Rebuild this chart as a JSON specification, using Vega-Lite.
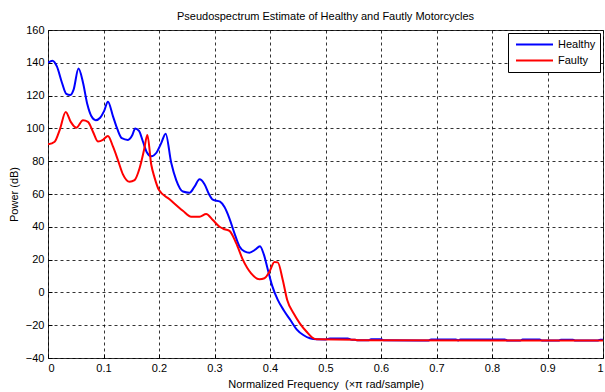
{
  "$schema": "https://vega.github.io/schema/vega-lite/v6.json",
  "width": 555,
  "height": 328,
  "autosize": "none",
  "padding": {"left": 48, "top": 30, "right": 2, "bottom": 34},
  "background": "white",
  "title": {"text": "Pseudospectrum Estimate of Healthy and Fautly Motorcycles", "fontSize": 11, "fontWeight": "normal", "font": "Liberation Sans", "offset": 2, "anchor": "middle", "color": "#000"},
  "data": {"values": [
    {"f": 0, "s": "Healthy", "p": 140},
    {"f": 0.008, "s": "Healthy", "p": 141.3},
    {"f": 0.016, "s": "Healthy", "p": 137.8},
    {"f": 0.025, "s": "Healthy", "p": 128},
    {"f": 0.033, "s": "Healthy", "p": 121},
    {"f": 0.04, "s": "Healthy", "p": 120.3},
    {"f": 0.046, "s": "Healthy", "p": 123.5},
    {"f": 0.055, "s": "Healthy", "p": 136.5},
    {"f": 0.063, "s": "Healthy", "p": 128},
    {"f": 0.071, "s": "Healthy", "p": 114.5},
    {"f": 0.078, "s": "Healthy", "p": 107.5},
    {"f": 0.086, "s": "Healthy", "p": 105},
    {"f": 0.094, "s": "Healthy", "p": 106.5},
    {"f": 0.101, "s": "Healthy", "p": 110.5},
    {"f": 0.108, "s": "Healthy", "p": 116.3},
    {"f": 0.117, "s": "Healthy", "p": 107.5},
    {"f": 0.125, "s": "Healthy", "p": 99.5},
    {"f": 0.133, "s": "Healthy", "p": 94},
    {"f": 0.144, "s": "Healthy", "p": 93},
    {"f": 0.152, "s": "Healthy", "p": 96},
    {"f": 0.157, "s": "Healthy", "p": 100},
    {"f": 0.164, "s": "Healthy", "p": 98.5},
    {"f": 0.171, "s": "Healthy", "p": 92},
    {"f": 0.178, "s": "Healthy", "p": 85.5},
    {"f": 0.186, "s": "Healthy", "p": 83},
    {"f": 0.195, "s": "Healthy", "p": 85},
    {"f": 0.204, "s": "Healthy", "p": 91},
    {"f": 0.212, "s": "Healthy", "p": 96.8},
    {"f": 0.222, "s": "Healthy", "p": 79},
    {"f": 0.231, "s": "Healthy", "p": 68.5},
    {"f": 0.243, "s": "Healthy", "p": 61.5},
    {"f": 0.255, "s": "Healthy", "p": 60.8},
    {"f": 0.264, "s": "Healthy", "p": 64.5},
    {"f": 0.273, "s": "Healthy", "p": 69},
    {"f": 0.282, "s": "Healthy", "p": 66},
    {"f": 0.29, "s": "Healthy", "p": 60},
    {"f": 0.297, "s": "Healthy", "p": 56.5},
    {"f": 0.31, "s": "Healthy", "p": 55.3},
    {"f": 0.318, "s": "Healthy", "p": 52},
    {"f": 0.327, "s": "Healthy", "p": 45},
    {"f": 0.336, "s": "Healthy", "p": 36},
    {"f": 0.345, "s": "Healthy", "p": 28},
    {"f": 0.354, "s": "Healthy", "p": 25},
    {"f": 0.363, "s": "Healthy", "p": 24.2},
    {"f": 0.373, "s": "Healthy", "p": 26},
    {"f": 0.382, "s": "Healthy", "p": 28.2},
    {"f": 0.389, "s": "Healthy", "p": 23},
    {"f": 0.396, "s": "Healthy", "p": 14},
    {"f": 0.404, "s": "Healthy", "p": 4},
    {"f": 0.414, "s": "Healthy", "p": -4.6},
    {"f": 0.425, "s": "Healthy", "p": -11},
    {"f": 0.437, "s": "Healthy", "p": -17},
    {"f": 0.448, "s": "Healthy", "p": -22.5},
    {"f": 0.46, "s": "Healthy", "p": -26},
    {"f": 0.472, "s": "Healthy", "p": -28},
    {"f": 0.484, "s": "Healthy", "p": -28.6},
    {"f": 0.5, "s": "Healthy", "p": -28.65},
    {"f": 0.508, "s": "Healthy", "p": -28.1},
    {"f": 0.54, "s": "Healthy", "p": -28.1},
    {"f": 0.548, "s": "Healthy", "p": -28.8},
    {"f": 0.553, "s": "Healthy", "p": -28.8},
    {"f": 0.558, "s": "Healthy", "p": -29.2},
    {"f": 0.577, "s": "Healthy", "p": -29.2},
    {"f": 0.582, "s": "Healthy", "p": -28.6},
    {"f": 0.6, "s": "Healthy", "p": -28.6},
    {"f": 0.606, "s": "Healthy", "p": -29.22},
    {"f": 0.686, "s": "Healthy", "p": -29.26},
    {"f": 0.69, "s": "Healthy", "p": -28.7},
    {"f": 0.735, "s": "Healthy", "p": -28.7},
    {"f": 0.739, "s": "Healthy", "p": -29.28},
    {"f": 0.743, "s": "Healthy", "p": -28.7},
    {"f": 0.823, "s": "Healthy", "p": -28.75},
    {"f": 0.828, "s": "Healthy", "p": -29.32},
    {"f": 0.851, "s": "Healthy", "p": -29.33},
    {"f": 0.855, "s": "Healthy", "p": -28.75},
    {"f": 0.886, "s": "Healthy", "p": -28.75},
    {"f": 0.89, "s": "Healthy", "p": -29.35},
    {"f": 0.92, "s": "Healthy", "p": -29.36},
    {"f": 0.924, "s": "Healthy", "p": -28.8},
    {"f": 0.946, "s": "Healthy", "p": -28.8},
    {"f": 0.95, "s": "Healthy", "p": -29.38},
    {"f": 0.99, "s": "Healthy", "p": -29.39},
    {"f": 0.995, "s": "Healthy", "p": -28.8},
    {"f": 1.0, "s": "Healthy", "p": -28.8},
    {"f": 0, "s": "Faulty", "p": 90.3},
    {"f": 0.012, "s": "Faulty", "p": 91.9},
    {"f": 0.021, "s": "Faulty", "p": 99},
    {"f": 0.032, "s": "Faulty", "p": 110},
    {"f": 0.041, "s": "Faulty", "p": 104},
    {"f": 0.051, "s": "Faulty", "p": 100.4},
    {"f": 0.063, "s": "Faulty", "p": 105},
    {"f": 0.072, "s": "Faulty", "p": 104},
    {"f": 0.081, "s": "Faulty", "p": 98},
    {"f": 0.09, "s": "Faulty", "p": 92},
    {"f": 0.099, "s": "Faulty", "p": 93},
    {"f": 0.108, "s": "Faulty", "p": 95.4},
    {"f": 0.117, "s": "Faulty", "p": 89},
    {"f": 0.126, "s": "Faulty", "p": 80.7},
    {"f": 0.135, "s": "Faulty", "p": 72},
    {"f": 0.147, "s": "Faulty", "p": 67.5},
    {"f": 0.156, "s": "Faulty", "p": 68.5},
    {"f": 0.165, "s": "Faulty", "p": 75.7},
    {"f": 0.173, "s": "Faulty", "p": 86.8},
    {"f": 0.179, "s": "Faulty", "p": 96},
    {"f": 0.186, "s": "Faulty", "p": 78},
    {"f": 0.192, "s": "Faulty", "p": 70},
    {"f": 0.2, "s": "Faulty", "p": 62.4},
    {"f": 0.219, "s": "Faulty", "p": 56.8},
    {"f": 0.243, "s": "Faulty", "p": 49.8},
    {"f": 0.258, "s": "Faulty", "p": 46.2},
    {"f": 0.273, "s": "Faulty", "p": 46.2},
    {"f": 0.285, "s": "Faulty", "p": 47.8},
    {"f": 0.297, "s": "Faulty", "p": 44.1},
    {"f": 0.309, "s": "Faulty", "p": 40},
    {"f": 0.318, "s": "Faulty", "p": 38.5},
    {"f": 0.327, "s": "Faulty", "p": 37.5},
    {"f": 0.339, "s": "Faulty", "p": 30},
    {"f": 0.351, "s": "Faulty", "p": 20},
    {"f": 0.366, "s": "Faulty", "p": 11.6},
    {"f": 0.381, "s": "Faulty", "p": 8},
    {"f": 0.39, "s": "Faulty", "p": 8.6},
    {"f": 0.399, "s": "Faulty", "p": 12.6},
    {"f": 0.408, "s": "Faulty", "p": 18.5},
    {"f": 0.414, "s": "Faulty", "p": 18.3},
    {"f": 0.423, "s": "Faulty", "p": 7.6},
    {"f": 0.431, "s": "Faulty", "p": -4.6},
    {"f": 0.443, "s": "Faulty", "p": -13},
    {"f": 0.454, "s": "Faulty", "p": -19},
    {"f": 0.466, "s": "Faulty", "p": -24},
    {"f": 0.476, "s": "Faulty", "p": -27.5},
    {"f": 0.484, "s": "Faulty", "p": -28.6},
    {"f": 0.553, "s": "Faulty", "p": -28.8},
    {"f": 0.558, "s": "Faulty", "p": -29.2},
    {"f": 1.0, "s": "Faulty", "p": -29.4}
  ]},
  "encoding": {
    "x": {"field": "f", "type": "quantitative", "scale": {"domain": [0, 1], "nice": false, "zero": false},
      "axis": {"values": [0, 0.1, 0.2, 0.3, 0.4, 0.5, 0.6, 0.7, 0.8, 0.9, 1], "format": "~g", "title": "Normalized Frequency \u00a0(×π rad/sample)", "ticks": true, "tickSize": -4, "tickColor": "#000", "labelPadding": 8, "titlePadding": 5}},
    "y": {"field": "p", "type": "quantitative", "scale": {"domain": [-40, 160], "nice": false, "zero": false},
      "axis": {"values": [-40, -20, 0, 20, 40, 60, 80, 100, 120, 140, 160], "title": "Power (dB)", "ticks": true, "tickSize": -4, "tickColor": "#000", "labelPadding": 8, "titlePadding": 6}},
    "color": {"field": "s", "type": "nominal", "scale": {"domain": ["Healthy", "Faulty"], "range": ["#0000ff", "#ff0000"]},
      "legend": {"title": null, "orient": "top-right", "offset": 3, "symbolType": "stroke", "symbolSize": 1369, "symbolStrokeWidth": 2, "symbolOffset": 3, "clipHeight": 15, "strokeColor": "#000", "fillColor": "#fff", "padding": 4, "labelFontSize": 11, "labelFont": "Liberation Sans", "labelColor": "#000", "labelOffset": 4, "rowPadding": 1}}
  },
  "layer": [
    {"transform": [{"filter": "datum.s === 'Healthy'"}], "mark": {"type": "line", "strokeWidth": 2, "interpolate": "monotone", "clip": true}},
    {"transform": [{"filter": "datum.s === 'Faulty'"}], "mark": {"type": "line", "strokeWidth": 2, "interpolate": "monotone", "clip": true}}
  ],
  "config": {
    "view": {"stroke": "#333", "strokeWidth": 1},
    "axis": {"grid": true, "gridColor": "#000", "gridDash": [3, 3], "gridOpacity": 0.8, "gridWidth": 1, "domain": false, "ticks": false,
      "labelFont": "Liberation Sans", "labelFontSize": 11, "labelColor": "#000",
      "titleFont": "Liberation Sans", "titleFontSize": 11, "titleFontWeight": "normal", "titleColor": "#000"}
  }
}
